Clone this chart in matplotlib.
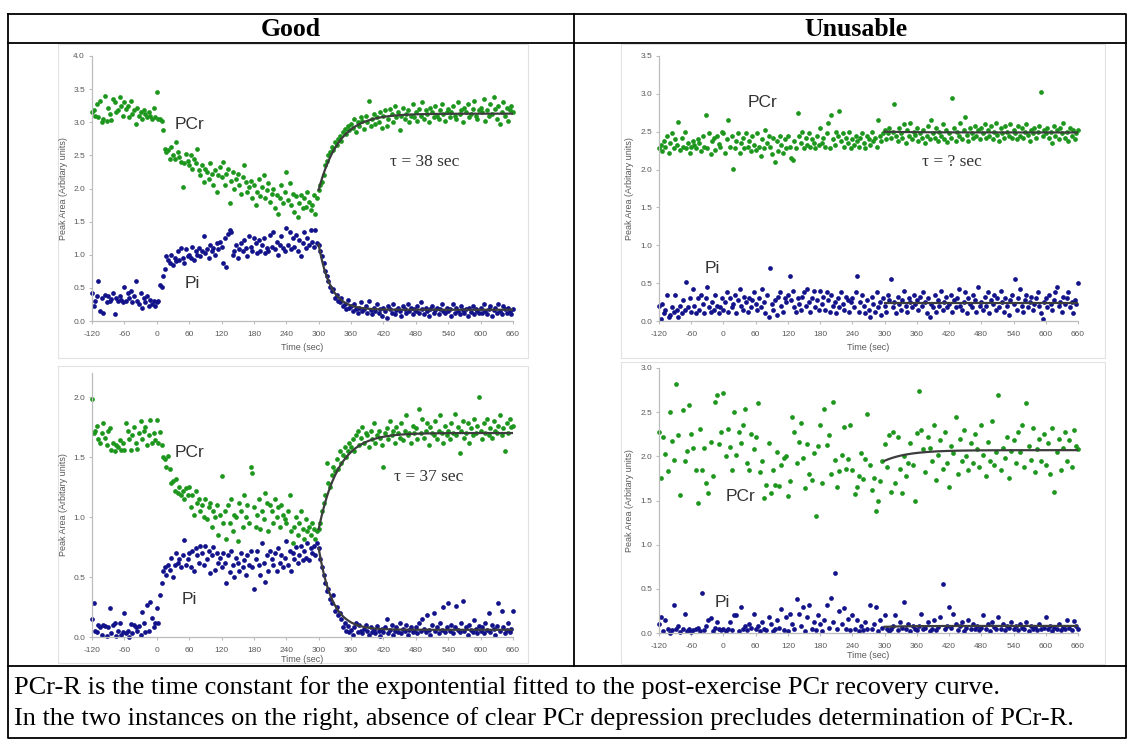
import numpy as np
import matplotlib
matplotlib.use("Agg")
import matplotlib.pyplot as plt

W, H = 1129, 741

# sample grid: first point at -120 s, fixed acquisition step per panel
TIME_START = -120
STEP_DENSE = 3
STEP_SPARSE = 4
FIT_START, FIT_END = 300, 660

X_TICKS = [-120, -60, 0, 60, 120, 180, 240, 300, 360, 420, 480, 540, 600, 660]

# ---- top-left ("Good", tau 38) ----
TL_PCR = [
    3.15, 3.18, 3.10, 3.28, 3.08, 3.32, 3.00, 3.05, 3.40, 3.02,
    3.22, 3.12, 3.04, 3.35, 3.30, 3.15, 3.18, 3.38, 3.25, 3.10,
    3.30, 3.20, 3.25, 3.08, 3.32, 3.12, 3.18, 2.98, 3.22, 3.10,
    3.15, 3.05, 3.18, 3.12, 3.08, 3.15, 3.10, 3.05, 3.22, 3.08,
    3.45, 3.05, 3.05, 3.02, 2.88, 2.60, 2.55, 2.58, 2.45, 2.62,
    2.50, 2.45, 2.70, 2.55, 2.48, 2.40, 2.02, 2.38, 2.52, 2.42,
    2.35, 2.50, 2.30, 2.45, 2.38, 2.60, 2.28, 2.20, 2.35, 2.10,
    2.30, 2.25, 2.15, 2.38, 2.22, 2.05, 2.28, 1.95, 2.20, 2.32,
    2.18, 2.40, 2.05, 2.22, 2.30, 1.78, 2.12, 2.25, 2.00, 2.15,
    2.22, 2.05, 1.92, 2.18, 2.35, 2.10, 1.95, 2.02, 2.12, 1.85,
    2.05, 1.75, 1.95, 2.15, 1.88, 2.02, 2.20, 1.85, 1.98, 2.08,
    1.80, 1.92, 2.00, 1.70, 1.90, 1.62, 1.85, 2.05, 1.78, 1.95,
    2.25, 1.82, 2.08, 1.75, 1.92, 1.65, 1.88, 1.57, 1.78, 1.90,
    1.70, 1.85, 1.72, 1.95, 1.80, 1.68, 1.75, 1.90, 1.62, 1.85,
    1.98, 2.05, 2.10, 2.20, 2.35, 2.42, 2.50, 2.55, 2.62, 2.58,
    2.70, 2.65, 2.75, 2.80, 2.72, 2.85, 2.90, 2.82, 2.95, 2.88,
    2.98, 2.92, 3.05, 2.85, 3.00, 2.95, 3.08, 3.02, 2.90, 3.10,
    3.00, 3.32, 2.95, 3.05, 3.12, 2.98, 3.08, 3.00, 3.15, 2.92,
    3.10, 3.18, 2.95, 3.05, 3.20, 3.12, 3.00, 3.25, 3.08, 3.15,
    2.88, 3.10, 3.22, 3.05, 3.12, 3.18, 3.00, 3.10, 3.28, 3.08,
    3.15, 3.02, 3.20, 3.10, 3.30, 3.05, 3.18, 3.12, 3.00, 3.22,
    3.15, 3.08, 3.25, 3.10, 3.05, 3.18, 3.28, 3.12, 3.02, 3.15,
    3.20, 3.08, 3.15, 3.25, 3.10, 3.05, 3.30, 3.12, 3.18, 3.00,
    3.22, 3.15, 3.28, 3.08, 3.12, 3.20, 3.32, 3.10, 3.05, 3.18,
    3.22, 3.15, 3.35, 3.02, 3.18, 3.10, 3.28, 3.12, 3.38, 3.20,
    3.05, 3.25, 2.98, 3.15, 3.30, 3.10, 3.22, 3.02, 3.18, 3.25,
    3.15,
]
TL_PI = [
    0.42, 0.22, 0.30, 0.38, 0.60, 0.15, 0.35, 0.12, 0.40, 0.28,
    0.38, 0.30, 0.33, 0.42, 0.10, 0.35, 0.30, 0.38, 0.32, 0.28,
    0.52, 0.30, 0.42, 0.35, 0.45, 0.28, 0.38, 0.60, 0.30, 0.25,
    0.42, 0.20, 0.35, 0.28, 0.38, 0.22, 0.32, 0.25, 0.30, 0.22,
    0.28, 0.30, 0.55, 0.52, 0.68, 0.78, 0.98, 0.92, 0.88, 1.00,
    0.85, 0.95, 0.90, 1.05, 0.92, 1.10, 0.95, 0.88, 1.08, 0.98,
    1.00, 0.95, 1.12, 0.92, 1.05, 1.00, 1.10, 0.98, 1.05, 1.28,
    1.02, 1.08, 0.95, 1.15, 1.05, 1.10, 1.00, 1.18, 1.08, 1.20,
    1.12, 0.88, 1.25, 0.82, 1.32, 1.38, 1.35, 1.00, 1.05, 1.15,
    0.95, 1.08, 1.18, 1.05, 1.22, 1.10, 0.98, 1.28, 1.12, 1.05,
    1.25, 1.18, 1.02, 1.22, 1.05, 1.15, 1.25, 1.02, 1.10, 1.05,
    1.30, 1.12, 1.35, 1.08, 1.20, 1.00, 1.15, 1.28, 1.10, 1.05,
    1.40, 1.15, 1.35, 1.08, 1.25, 1.12, 1.30, 1.05, 1.22, 0.98,
    1.18, 1.35, 1.10, 1.25, 1.15, 1.38, 1.20, 1.12, 1.38, 1.18,
    1.15, 1.05, 0.98, 0.88, 0.75, 0.68, 0.60, 0.52, 0.45, 0.48,
    0.35, 0.40, 0.30, 0.28, 0.35, 0.22, 0.25, 0.18, 0.32, 0.20,
    0.22, 0.15, 0.25, 0.18, 0.12, 0.20, 0.28, 0.15, 0.18, 0.22,
    0.12, 0.30, 0.17, 0.10, 0.20, 0.15, 0.25, 0.12, 0.18, 0.08,
    0.20, 0.15, 0.05, 0.22, 0.18, 0.12, 0.25, 0.10, 0.17, 0.20,
    0.15, 0.08, 0.22, 0.18, 0.12, 0.25, 0.15, 0.20, 0.10, 0.18,
    0.15, 0.22, 0.12, 0.28, 0.18, 0.10, 0.20, 0.15, 0.08, 0.18,
    0.22, 0.12, 0.16, 0.20, 0.10, 0.18, 0.25, 0.15, 0.12, 0.20,
    0.15, 0.18, 0.08, 0.25, 0.12, 0.20, 0.15, 0.10, 0.22, 0.16,
    0.12, 0.18, 0.08, 0.20, 0.14, 0.22, 0.10, 0.18, 0.15, 0.12,
    0.20, 0.12, 0.25, 0.15, 0.10, 0.18, 0.22, 0.08, 0.16, 0.20,
    0.12, 0.25, 0.15, 0.10, 0.22, 0.18, 0.12, 0.20, 0.15, 0.10,
    0.18,
]

# ---- bottom-left ("Good", tau 37) ----
BL_PCR = [
    1.98, 1.70, 1.72, 1.76, 1.65, 1.62, 1.70, 1.78, 1.66, 1.60,
    1.72, 1.74, 1.56, 1.62, 1.55, 1.60, 1.58, 1.64, 1.56, 1.62,
    1.56, 1.78, 1.72, 1.65, 1.56, 1.68, 1.75, 1.62, 1.57, 1.70,
    1.80, 1.65, 1.72, 1.75, 1.60, 1.68, 1.81, 1.62, 1.70, 1.64,
    1.81, 1.62, 1.71, 1.60, 1.50, 1.48, 1.42, 1.51, 1.40, 1.28,
    1.30, 1.22, 1.32, 1.20, 1.25, 1.18, 1.22, 1.15, 1.24, 1.18,
    1.25, 1.08, 1.18, 1.02, 1.22, 1.12, 1.15, 1.05, 1.10, 1.00,
    1.15, 0.98, 1.08, 1.12, 0.92, 1.05, 1.00, 1.10, 0.85, 1.02,
    1.34, 0.95, 1.05, 0.82, 1.10, 0.95, 1.15, 0.88, 1.02, 1.00,
    0.80, 1.12, 1.05, 0.92, 1.18, 1.00, 1.10, 0.95, 1.42, 1.37,
    1.08, 0.92, 1.02, 1.15, 0.90, 1.05, 0.98, 1.20, 1.12, 0.88,
    1.10, 1.05, 0.95, 1.15, 1.00, 1.08, 0.92, 1.10, 1.02, 0.98,
    0.95, 1.05, 1.18, 0.88, 0.78, 0.92, 1.00, 0.85, 0.95, 1.05,
    0.90, 0.82, 0.98, 0.88, 0.92, 0.85, 0.95, 0.90, 0.82, 0.88,
    0.90, 0.95, 1.05, 1.12, 1.18, 1.45, 1.28, 1.25, 1.35, 1.42,
    1.38, 1.48, 1.40, 1.55, 1.45, 1.52, 1.58, 1.50, 1.55, 1.62,
    1.58, 1.65, 1.55, 1.68, 1.72, 1.60, 1.66, 1.75, 1.62, 1.70,
    1.68, 1.58, 1.72, 1.65, 1.78, 1.62, 1.68, 1.72, 1.66, 1.60,
    1.42, 1.70, 1.74, 1.65, 1.80, 1.68, 1.72, 1.62, 1.75, 1.70,
    1.66, 1.78, 1.64, 1.72, 1.85, 1.68, 1.70, 1.62, 1.76, 1.70,
    1.74, 1.65, 1.90, 1.70, 1.82, 1.66, 1.72, 1.78, 1.60, 1.75,
    1.70, 1.68, 1.80, 1.65, 1.72, 1.85, 1.70, 1.62, 1.76, 1.68,
    1.72, 1.65, 1.78, 1.70, 1.86, 1.68, 1.75, 1.53, 1.72, 1.80,
    1.66, 1.70, 1.78, 1.62, 1.74, 1.68, 1.82, 1.70, 1.76, 2.00,
    1.72, 1.65, 1.78, 1.70, 1.82, 1.68, 1.74, 1.66, 1.80, 1.72,
    1.70, 1.76, 1.85, 1.68, 1.74, 1.55, 1.78, 1.70, 1.82, 1.75,
    1.76,
]
BL_PI = [
    0.15, 0.28, 0.05, 0.04, 0.10, 0.08, 0.02, 0.10, 0.09, 0.01,
    0.08, 0.24, 0.03, 0.10, 0.12, 0.01, 0.05, 0.12, 0.02, 0.04,
    0.20, 0.03, 0.05, 0.00, 0.11, 0.03, 0.10, 0.08, 0.05, 0.09,
    0.02, 0.21, 0.12, 0.04, 0.27, 0.05, 0.29, 0.16, 0.08, 0.12,
    0.24, 0.12, 0.35, 0.45, 0.55, 0.58, 0.52, 0.60, 0.56, 0.66,
    0.50, 0.60, 0.70, 0.62, 0.65, 0.58, 0.68, 0.81, 0.60, 0.65,
    0.70, 0.58, 0.72, 0.55, 0.74, 0.68, 0.62, 0.76, 0.70, 0.60,
    0.76, 0.65, 0.72, 0.53, 0.68, 0.75, 0.56, 0.70, 0.62, 0.66,
    0.58, 0.70, 0.62, 0.45, 0.68, 0.54, 0.72, 0.60, 0.50, 0.66,
    0.62, 0.55, 0.70, 0.58, 0.64, 0.52, 0.68, 0.60, 0.72, 0.58,
    0.40, 0.65, 0.72, 0.60, 0.52, 0.78, 0.62, 0.46, 0.68, 0.55,
    0.72, 0.65, 0.60, 0.70, 0.55, 0.74, 0.62, 0.68, 0.58, 0.66,
    0.80, 0.60, 0.72, 0.55, 0.70, 0.65, 0.75, 0.62, 0.68, 0.76,
    0.64, 0.72, 0.66, 0.78, 0.64, 0.74, 0.70, 0.76, 0.68, 0.78,
    0.74, 0.65, 0.58, 0.52, 0.45, 0.38, 0.40, 0.32, 0.28, 0.35,
    0.22, 0.25, 0.18, 0.20, 0.15, 0.08, 0.12, 0.05, 0.09, 0.04,
    0.06, 0.02, 0.08, 0.12, 0.04, 0.10, 0.05, 0.03, 0.07, 0.10,
    0.05, 0.02, 0.08, 0.04, 0.06, 0.03, 0.09, 0.05, 0.01, 0.07,
    0.04, 0.08, 0.15, 0.03, 0.06, 0.10, 0.02, 0.05, 0.08, 0.04,
    0.12, 0.03, 0.07, 0.05, 0.10, 0.02, 0.06, 0.08, 0.04, 0.05,
    0.08, 0.03, 0.12, 0.05, 0.15, 0.07, 0.04, 0.18, 0.06, 0.02,
    0.10, 0.20, 0.05, 0.08, 0.03, 0.12, 0.06, 0.25, 0.04, 0.08,
    0.28, 0.05, 0.10, 0.03, 0.08, 0.26, 0.06, 0.04, 0.12, 0.30,
    0.05, 0.08, 0.02, 0.10, 0.06, 0.04, 0.14, 0.07, 0.03, 0.09,
    0.05, 0.08, 0.03, 0.12, 0.06, 0.20, 0.04, 0.10, 0.07, 0.02,
    0.09, 0.28, 0.05, 0.22, 0.08, 0.03, 0.06, 0.12, 0.04, 0.07,
    0.22,
]

# ---- top-right ("Unusable") ----
TR_PCR = [
    2.28, 2.32, 2.25, 2.38, 2.30, 2.45, 2.22, 2.35, 2.48, 2.28,
    2.40, 2.32, 2.63, 2.26, 2.42, 2.30, 2.50, 2.28, 2.35, 2.22,
    2.30, 2.38, 2.32, 2.28, 2.40, 2.35, 2.25, 2.44, 2.30, 2.72,
    2.28, 2.48, 2.20, 2.38, 2.42, 2.26, 2.45, 2.34, 2.30, 2.50,
    2.48, 2.22, 2.40, 2.66, 2.30, 2.45, 2.01, 2.28, 2.38, 2.48,
    2.22, 2.35, 2.42, 2.28, 2.48, 2.30, 2.38, 2.25, 2.44, 2.32,
    2.26, 2.48, 2.30, 2.18, 2.40, 2.28, 2.52, 2.35, 2.45, 2.30,
    2.20, 2.42, 2.10, 2.38, 2.25, 2.45, 2.32, 2.22, 2.40, 2.28,
    2.45, 2.30, 2.15, 2.12, 2.38, 2.28, 2.75, 2.45, 2.35, 2.50,
    2.28, 2.42, 2.32, 2.48, 2.30, 2.40, 2.35, 2.28, 2.45, 2.32,
    2.55, 2.35, 2.42, 2.30, 2.48, 2.62, 2.28, 2.72, 2.40, 2.32,
    2.50, 2.45, 2.77, 2.38, 2.48, 2.30, 2.42, 2.35, 2.50, 2.28,
    2.40, 2.32, 2.45, 2.38, 2.30, 2.42, 2.48, 2.35, 2.28, 2.45,
    2.40, 2.32, 2.50, 2.38, 2.42, 2.30, 2.65, 2.45, 2.38, 2.48,
    2.52, 2.40, 2.48, 2.55, 2.42, 2.50, 2.87, 2.45, 2.38, 2.55,
    2.48, 2.42, 2.60, 2.35, 2.52, 2.45, 2.62, 2.40, 2.50, 2.46,
    2.55, 2.38, 2.48, 2.42, 2.52, 2.35, 2.45, 2.58, 2.40, 2.66,
    2.48, 2.42, 2.55, 2.38, 2.50, 2.45, 2.60, 2.40, 2.52, 2.36,
    2.48, 2.42, 2.95, 2.55, 2.38, 2.50, 2.45, 2.62, 2.40, 2.52,
    2.70, 2.46, 2.38, 2.55, 2.48, 2.42, 2.58, 2.45, 2.52, 2.40,
    2.55, 2.48, 2.60, 2.42, 2.52, 2.45, 2.58, 2.40, 2.50, 2.62,
    2.46, 2.38, 2.55, 2.48, 2.42, 2.58, 2.50, 2.45, 2.60, 2.42,
    2.52, 2.48, 2.40, 2.58, 2.45, 2.55, 2.42, 2.50, 2.60, 2.46,
    2.38, 2.52, 2.48, 2.55, 2.42, 2.50, 2.58, 3.02, 2.45, 2.52,
    2.48, 2.55, 2.42, 2.50, 2.35, 2.58, 2.45, 2.52, 2.40, 2.55,
    2.48, 2.62, 2.42, 2.50, 2.38, 2.55, 2.45, 2.52, 2.40, 2.48,
    2.52,
]
TR_PI = [
    0.20, 0.02, 0.22, 0.10, 0.15, 0.35, 0.05, 0.08, 0.18, 0.12,
    0.35, 0.15, 0.05, 0.20, 0.10, 0.28, 0.15, 0.52, 0.18, 0.30,
    0.12, 0.42, 0.20, 0.10, 0.30, 0.15, 0.35, 0.22, 0.10, 0.30,
    0.45, 0.18, 0.12, 0.25, 0.15, 0.35, 0.20, 0.10, 0.18, 0.30,
    0.15, 0.25, 0.38, 0.12, 0.30, 0.18, 0.22, 0.35, 0.10, 0.28,
    0.42, 0.20, 0.15, 0.32, 0.25, 0.12, 0.30, 0.18, 0.28, 0.38,
    0.22, 0.15, 0.30, 0.18, 0.42, 0.25, 0.10, 0.35, 0.05, 0.70,
    0.22, 0.15, 0.28, 0.08, 0.32, 0.38, 0.20, 0.12, 0.30, 0.25,
    0.35, 0.60, 0.28, 0.40, 0.18, 0.12, 0.30, 0.22, 0.15, 0.32,
    0.38, 0.20, 0.42, 0.25, 0.12, 0.30, 0.40, 0.18, 0.28, 0.15,
    0.40, 0.22, 0.32, 0.15, 0.38, 0.28, 0.12, 0.35, 0.20, 0.25,
    0.10, 0.30, 0.18, 0.38, 0.22, 0.15, 0.32, 0.28, 0.12, 0.25,
    0.30, 0.18, 0.38, 0.60, 0.12, 0.25, 0.35, 0.20, 0.10, 0.28,
    0.15, 0.05, 0.32, 0.22, 0.12, 0.38, 0.18, 0.25, 0.08, 0.30,
    0.20, 0.12, 0.35, 0.28, 0.55, 0.18, 0.25, 0.10, 0.32, 0.22,
    0.15, 0.28, 0.40, 0.20, 0.12, 0.30, 0.25, 0.18, 0.35, 0.22,
    0.28, 0.15, 0.32, 0.20, 0.38, 0.25, 0.10, 0.30, 0.05, 0.22,
    0.18, 0.35, 0.12, 0.28, 0.20, 0.40, 0.15, 0.25, 0.32, 0.18,
    0.22, 0.35, 0.12, 0.28, 0.18, 0.30, 0.42, 0.20, 0.15, 0.25,
    0.38, 0.10, 0.30, 0.22, 0.18, 0.35, 0.28, 0.12, 0.45, 0.20,
    0.25, 0.15, 0.32, 0.20, 0.38, 0.10, 0.28, 0.22, 0.35, 0.15,
    0.30, 0.18, 0.40, 0.25, 0.12, 0.30, 0.20, 0.08, 0.28, 0.35,
    0.22, 0.55, 0.15, 0.30, 0.42, 0.20, 0.12, 0.28, 0.35, 0.18,
    0.25, 0.32, 0.15, 0.22, 0.30, 0.38, 0.20, 0.10, 0.03, 0.25,
    0.30, 0.18, 0.35, 0.22, 0.15, 0.28, 0.38, 0.45, 0.20, 0.25,
    0.12, 0.32, 0.22, 0.30, 0.38, 0.18, 0.25, 0.10, 0.28, 0.22,
    0.50,
]

# ---- bottom-right ("Unusable", sparser sampling) ----
BR_PCR = [
    2.28, 1.75, 2.22, 2.03, 1.83, 2.50, 2.17, 1.96, 2.82, 2.24, 1.56, 2.53, 1.95, 2.06, 2.58,
    2.25, 2.10, 1.85, 1.47, 2.31, 1.85, 2.10, 1.70, 1.59, 2.16, 1.78, 2.62, 2.70, 2.14, 2.28,
    2.72, 2.00, 2.31, 2.11, 1.84, 2.50, 2.02, 2.27, 2.15, 2.35, 2.54, 1.92, 1.85, 2.25, 2.08,
    2.22, 2.60, 1.82, 1.95, 1.53, 1.68, 2.15, 1.59, 1.84, 1.68, 2.05, 1.66, 1.90, 1.98, 2.00,
    1.55, 1.72, 2.45, 2.27, 1.93, 2.16, 2.38, 1.98, 1.64, 2.14, 1.80, 1.73, 2.04, 1.33, 2.12,
    2.35, 1.70, 2.54, 2.13, 2.24, 1.80, 2.62, 1.96, 1.65, 1.83, 2.01, 2.33, 1.86, 1.97, 2.36,
    1.85, 1.57, 1.65, 1.78, 2.04, 1.74, 1.97, 2.48, 1.90, 1.62, 1.75, 1.38, 1.49, 1.72, 1.95,
    2.14, 1.88, 2.24, 1.60, 2.28, 1.70, 2.22, 1.86, 1.58, 2.00, 1.78, 1.93, 2.15, 1.90, 1.50,
    2.26, 2.74, 2.30, 2.08, 1.82, 2.22, 2.10, 1.95, 2.35, 1.73, 2.02, 2.18, 1.86, 2.28, 1.92,
    1.65, 2.12, 2.04, 2.45, 1.80, 2.20, 1.95, 2.30, 2.00, 1.85, 2.15, 1.93, 2.25, 2.08, 1.88,
    2.35, 2.02, 1.78, 2.16, 1.95, 2.40, 1.90, 2.05, 2.70, 1.85, 2.10, 1.98, 2.22, 1.75, 2.06,
    2.18, 1.92, 2.28, 2.05, 2.36, 1.88, 2.60, 2.12, 1.96, 2.32, 1.82, 2.08, 2.20, 1.95, 2.25,
    1.90, 2.15, 1.80, 2.32, 1.60, 2.05, 2.20, 1.85, 2.10, 2.28, 1.95, 2.18, 1.88, 2.30, 2.12,
    2.08,
]
BR_PI = [
    0.10, 0.18, 0.02, 0.15, 0.05, 0.00, 0.03, 0.32, 0.04, 0.08, 0.01, 0.05, 0.21, 0.02, 0.04,
    0.01, 0.03, 0.05, 0.06, 0.02, 0.45, 0.03, 0.08, 0.15, 0.17, 0.02, 0.06, 0.12, 0.04, 0.03,
    0.05, 0.02, 0.04, 0.12, 0.03, 0.20, 0.20, 0.02, 0.30, 0.05, 0.08, 0.03, 0.10, 0.06, 0.22,
    0.04, 0.08, 0.02, 0.12, 0.05, 0.03, 0.18, 0.10, 0.02, 0.04, 0.15, 0.06, 0.27, 0.03, 0.18,
    0.02, 0.22, 0.10, 0.05, 0.38, 0.22, 0.08, 0.30, 0.02, 0.18, 0.32, 0.05, 0.12, 0.03, 0.20,
    0.10, 0.02, 0.15, 0.32, 0.06, 0.40, 0.12, 0.68, 0.04, 0.25, 0.10, 0.28, 0.05, 0.16, 0.03,
    0.20, 0.05, 0.15, 0.02, 0.08, 0.03, 0.12, 0.05, 0.32, 0.04, 0.10, 0.30, 0.02, 0.15, 0.06,
    0.20, 0.04, 0.02, 0.05, 0.08, 0.20, 0.03, 0.12, 0.06, 0.35, 0.04, 0.10, 0.02, 0.08, 0.05,
    0.03, 0.08, 0.22, 0.04, 0.06, 0.12, 0.02, 0.05, 0.15, 0.03, 0.07, 0.18, 0.55, 0.04, 0.08,
    0.30, 0.06, 0.22, 0.10, 0.03, 0.08, 0.12, 0.02, 0.06, 0.15, 0.04, 0.10, 0.05, 0.08, 0.03,
    0.06, 0.20, 0.04, 0.10, 0.02, 0.12, 0.07, 0.04, 0.18, 0.05, 0.10, 0.03, 0.08, 0.06, 0.12,
    0.04, 0.08, 0.03, 0.10, 0.06, 0.05, 0.12, 0.02, 0.08, 0.04, 0.07, 0.03, 0.10, 0.05, 0.06,
    0.18, 0.04, 0.08, 0.02, 0.06, 0.05, 0.10, 0.03, 0.07, 0.04, 0.15, 0.06, 0.03, 0.14, 0.08,
    0.05,
]

# exponential fits after exercise: (value at 300 s, plateau, tau in s)
TL_PCR_FIT = (1.98, 3.13, 38)
TL_PI_FIT = (1.15, 0.17, 22)
BL_PCR_FIT = (0.90, 1.70, 37)
BL_PI_FIT = (0.74, 0.06, 25)
TR_PCR_FIT = (2.50, 2.49, 60)
TR_PI_FIT = (0.24, 0.24, 60)
BR_PCR_FIT = (1.95, 2.07, 45)
BR_PI_FIT = (0.07, 0.08, 45)

HEADERS = ["Good", "Unusable"]
CAPTION = [
    "PCr-R is the time constant for the expontential fitted to the post-exercise PCr recovery curve.",
    "In the two instances on the right, absence of clear PCr depression precludes determination of PCr-R.",
]

GREEN = "#1c961c"
BLUE = "#12128a"
FIT_COLOR = "#3c3c3c"
AXIS_GRAY = "#bcbcbc"
TEXT_GRAY = "#595959"
SANS = "Liberation Sans"
SERIF = "Liberation Serif"

plt.rcParams["axes.unicode_minus"] = False


def px_rect(x0, y0, x1, y1):
    return [x0 / W, 1 - y1 / H, (x1 - x0) / W, (y1 - y0) / H]


def fit_curve(params):
    start, plateau, tau = params
    t = np.linspace(FIT_START, FIT_END, 300)
    return t, plateau + (start - plateau) * np.exp(-(t - FIT_START) / tau)


def draw_panel(fig, bg, panel):
    x0, y0, x1, y1 = panel["box"]
    ax = fig.add_axes(px_rect(x0, y0, x1, y1))
    step = panel["step"]
    for values, color in ((panel["pcr"], GREEN), (panel["pi"], BLUE)):
        t = TIME_START + step * np.arange(len(values))
        ax.plot(t, values, "o", ms=3.4, color=color, mec="none", clip_on=False, zorder=2)
    for params in (panel["pcr_fit"], panel["pi_fit"]):
        t, y = fit_curve(params)
        ax.plot(t, y, color=FIT_COLOR, lw=1.6, zorder=3)

    ax.set_xlim(-120, 660)
    ax.set_ylim(0, panel["ymax"])
    ax.set_xticks(X_TICKS)
    ax.set_yticks(panel["yticks"])
    ax.set_yticklabels([f"{v:.1f}" for v in panel["yticks"]])
    for side in ("top", "right"):
        ax.spines[side].set_visible(False)
    for side in ("left", "bottom"):
        ax.spines[side].set_color(AXIS_GRAY)
        ax.spines[side].set_linewidth(0.9)
    ax.tick_params(axis="both", direction="out", length=2, width=0.8, color=AXIS_GRAY,
                   labelsize=6, labelcolor=TEXT_GRAY)
    ax.tick_params(axis="x", pad=5)
    ax.tick_params(axis="y", pad=3)
    for lab in ax.get_xticklabels() + ax.get_yticklabels():
        lab.set_family(SANS)
    ax.patch.set_alpha(0)

    ax.text(*panel["pcr_label"], "PCr", fontsize=12.5, family=SANS, color="#333333",
            ha="center", va="center")
    ax.text(*panel["pi_label"], "Pi", fontsize=12.5, family=SANS, color="#333333",
            ha="center", va="center")
    if panel["tau"]:
        ax.text(*panel["tau_pos"], panel["tau"], fontsize=12.5, family=SERIF, color="#333333",
                ha="center", va="center")

    bg.text((x0 + x1) / 2, panel["xlabel_y"], "Time (sec)", fontsize=6.5, family=SANS,
            color=TEXT_GRAY, ha="center", va="center")
    bg.text(x0 - 29, (y0 + y1) / 2, "Peak Area (Arbitary units)", fontsize=6.5, family=SANS,
            color=TEXT_GRAY, ha="center", va="center", rotation=90)


def main() -> None:
    fig = plt.figure(figsize=(W / 100, H / 100), dpi=100)
    bg = fig.add_axes([0, 0, 1, 1])
    bg.set_xlim(0, W)
    bg.set_ylim(H, 0)
    bg.axis("off")

    # faint chart-area frames
    for cx0, cy0, cx1, cy1 in [(58, 44, 528, 358), (58, 366, 528, 663),
                               (621, 44, 1105, 358), (621, 362, 1105, 664)]:
        bg.plot([cx0, cx1, cx1, cx0, cx0], [cy0, cy0, cy1, cy1, cy0], color="#e2e2e2", lw=0.8)

    # table grid
    lw = 1.3
    left, right, top, bottom = 8, 1126, 14, 738
    bg.plot([left, right, right, left, left], [top, top, bottom, bottom, top], color="black", lw=lw)
    bg.plot([left, right], [43, 43], color="black", lw=lw)
    bg.plot([left, right], [666, 666], color="black", lw=lw)
    bg.plot([574, 574], [top, 666], color="black", lw=lw)

    bg.text(291, 29, HEADERS[0], fontsize=18.5, family=SERIF, weight="bold", ha="center", va="center")
    bg.text(856, 29, HEADERS[1], fontsize=18.5, family=SERIF, weight="bold", ha="center", va="center")
    bg.text(14, 688, CAPTION[0], fontsize=19, family=SERIF, ha="left", va="center")
    bg.text(14, 719, CAPTION[1], fontsize=19, family=SERIF, ha="left", va="center")

    panels = [
        dict(box=(92, 56, 513, 321), ymax=4.0, yticks=[0, 0.5, 1, 1.5, 2, 2.5, 3, 3.5, 4],
             pcr=TL_PCR, pi=TL_PI, step=STEP_DENSE, pcr_fit=TL_PCR_FIT, pi_fit=TL_PI_FIT,
             pcr_label=(60, 2.96), pi_label=(66, 0.57), tau="τ = 38 sec", tau_pos=(496, 2.4),
             xlabel_y=348),
        dict(box=(92, 373, 513, 637), ymax=2.2, yticks=[0, 0.5, 1, 1.5, 2],
             pcr=BL_PCR, pi=BL_PI, step=STEP_DENSE, pcr_fit=BL_PCR_FIT, pi_fit=BL_PI_FIT,
             pcr_label=(61, 1.54), pi_label=(61, 0.31), tau="τ = 37 sec", tau_pos=(504, 1.33),
             xlabel_y=659),
        dict(box=(659, 56, 1078, 321), ymax=3.5, yticks=[0, 0.5, 1, 1.5, 2, 2.5, 3, 3.5],
             pcr=TR_PCR, pi=TR_PI, step=STEP_DENSE, pcr_fit=TR_PCR_FIT, pi_fit=TR_PI_FIT,
             pcr_label=(73, 2.89), pi_label=(-21, 0.69), tau="τ = ? sec", tau_pos=(425, 2.1),
             xlabel_y=348),
        dict(box=(659, 368, 1078, 633), ymax=3.0, yticks=[0, 0.5, 1, 1.5, 2, 2.5, 3],
             pcr=BR_PCR, pi=BR_PI, step=STEP_SPARSE, pcr_fit=BR_PCR_FIT, pi_fit=BR_PI_FIT,
             pcr_label=(32, 1.54), pi_label=(-2, 0.35), tau=None, tau_pos=None,
             xlabel_y=656),
    ]
    for panel in panels:
        draw_panel(fig, bg, panel)

    fig.savefig("out.png", dpi=100)
    plt.close(fig)


if __name__ == "__main__":
    main()
